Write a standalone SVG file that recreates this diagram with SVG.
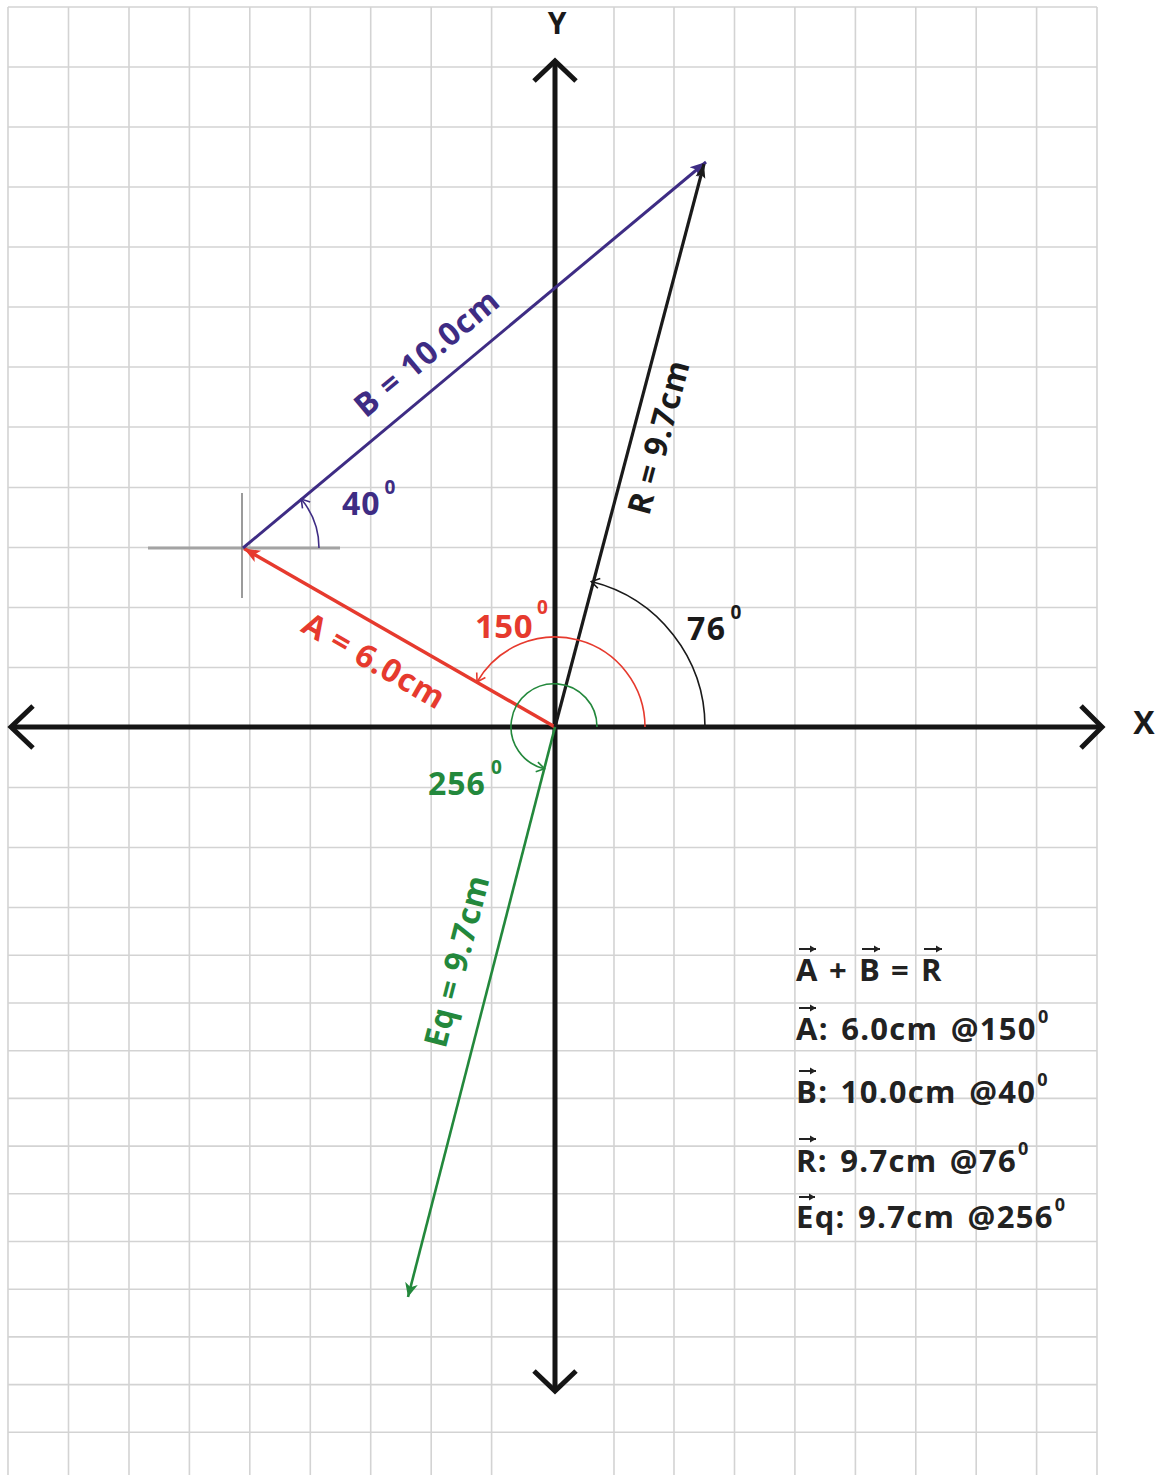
<svg xmlns="http://www.w3.org/2000/svg" width="1158" height="1475" viewBox="0 0 1158 1475">
<style>
.grid line{stroke:#d3d3d3;stroke-width:1.6}
.ax{fill:none;stroke:#151515;stroke-width:5}
.lbl{font-family:"Open Sans","Liberation Sans",sans-serif;font-weight:700}
.rot{font-size:32px;letter-spacing:1px}
.red{fill:#e63a2e}
.pur{fill:#3e2c84}
.grn{fill:#23883c}
.blk{fill:#1a1a1a}
.arc{fill:none;stroke-width:1.6}
.leg{font-family:"Open Sans","Liberation Sans",sans-serif;font-weight:700;font-size:31px;letter-spacing:1.3px;word-spacing:3px;fill:#222}
.vec{stroke:#222;stroke-width:2;fill:none}
</style>
<defs>
<marker id="hRed" markerUnits="userSpaceOnUse" markerWidth="20" markerHeight="16" refX="16" refY="8" orient="auto"><path d="M0,1.5 L16,8 L0,14.5 L4,8 Z" fill="#e63a2e"/></marker>
<marker id="hPur" markerUnits="userSpaceOnUse" markerWidth="20" markerHeight="16" refX="16" refY="8" orient="auto"><path d="M0,1.5 L16,8 L0,14.5 L4,8 Z" fill="#3e2c84"/></marker>
<marker id="hBlk" markerUnits="userSpaceOnUse" markerWidth="20" markerHeight="16" refX="16" refY="8" orient="auto"><path d="M2,3 L16,8 L2,13 L5,8 Z" fill="#1a1a1a"/></marker>
<marker id="hGrn" markerUnits="userSpaceOnUse" markerWidth="20" markerHeight="16" refX="14" refY="8" orient="auto"><path d="M0,1.5 L14,8 L0,14.5 L4,8 Z" fill="#23883c"/></marker>
<marker id="cRed" markerUnits="userSpaceOnUse" markerWidth="14" markerHeight="14" refX="9" refY="6" orient="auto"><path d="M1,1 L9,6 L1,11" fill="none" stroke="#e63a2e" stroke-width="1.6"/></marker>
<marker id="cBlk" markerUnits="userSpaceOnUse" markerWidth="14" markerHeight="14" refX="9" refY="6" orient="auto"><path d="M1,1 L9,6 L1,11" fill="none" stroke="#1a1a1a" stroke-width="1.6"/></marker>
<marker id="cGrn" markerUnits="userSpaceOnUse" markerWidth="14" markerHeight="14" refX="9" refY="6" orient="auto"><path d="M1,1 L9,6 L1,11" fill="none" stroke="#23883c" stroke-width="1.6"/></marker>
<marker id="cPur" markerUnits="userSpaceOnUse" markerWidth="14" markerHeight="14" refX="9" refY="6" orient="auto"><path d="M1,1 L9,6 L1,11" fill="none" stroke="#3e2c84" stroke-width="1.6"/></marker>
<marker id="vh" markerUnits="userSpaceOnUse" markerWidth="8" markerHeight="8" refX="6" refY="4" orient="auto"><path d="M0,0.5 L6,4 L0,7.5 Z" fill="#222"/></marker>
</defs>
<rect width="1158" height="1475" fill="#fff"/>
<g id="grid" class="grid">
<line x1="8" y1="7" x2="8" y2="1475"/><line x1="68.5" y1="7" x2="68.5" y2="1475"/><line x1="129" y1="7" x2="129" y2="1475"/><line x1="189.4" y1="7" x2="189.4" y2="1475"/><line x1="249.8" y1="7" x2="249.8" y2="1475"/><line x1="310.3" y1="7" x2="310.3" y2="1475"/><line x1="370.7" y1="7" x2="370.7" y2="1475"/><line x1="431.2" y1="7" x2="431.2" y2="1475"/><line x1="491.6" y1="7" x2="491.6" y2="1475"/><line x1="614" y1="7" x2="614" y2="1475"/><line x1="674" y1="7" x2="674" y2="1475"/><line x1="734.5" y1="7" x2="734.5" y2="1475"/><line x1="794.9" y1="7" x2="794.9" y2="1475"/><line x1="855.4" y1="7" x2="855.4" y2="1475"/><line x1="915.8" y1="7" x2="915.8" y2="1475"/><line x1="976.2" y1="7" x2="976.2" y2="1475"/><line x1="1036.6" y1="7" x2="1036.6" y2="1475"/><line x1="1097" y1="7" x2="1097" y2="1475"/>
<line x1="8" y1="7" x2="1097" y2="7"/><line x1="8" y1="67" x2="1097" y2="67"/><line x1="8" y1="127" x2="1097" y2="127"/><line x1="8" y1="187" x2="1097" y2="187"/><line x1="8" y1="247" x2="1097" y2="247"/><line x1="8" y1="307" x2="1097" y2="307"/><line x1="8" y1="367" x2="1097" y2="367"/><line x1="8" y1="427" x2="1097" y2="427"/><line x1="8" y1="487.5" x2="1097" y2="487.5"/><line x1="8" y1="547.5" x2="1097" y2="547.5"/><line x1="8" y1="607.5" x2="1097" y2="607.5"/><line x1="8" y1="667.5" x2="1097" y2="667.5"/><line x1="8" y1="787.5" x2="1097" y2="787.5"/><line x1="8" y1="847.5" x2="1097" y2="847.5"/><line x1="8" y1="907.5" x2="1097" y2="907.5"/>
<line x1="8" y1="955.3" x2="1097" y2="955.3"/><line x1="8" y1="1003" x2="1097" y2="1003"/><line x1="8" y1="1050.7" x2="1097" y2="1050.7"/><line x1="8" y1="1098.4" x2="1097" y2="1098.4"/><line x1="8" y1="1146.1" x2="1097" y2="1146.1"/><line x1="8" y1="1193.8" x2="1097" y2="1193.8"/><line x1="8" y1="1241.5" x2="1097" y2="1241.5"/><line x1="8" y1="1289.2" x2="1097" y2="1289.2"/><line x1="8" y1="1336.9" x2="1097" y2="1336.9"/><line x1="8" y1="1384.6" x2="1097" y2="1384.6"/><line x1="8" y1="1432.3" x2="1097" y2="1432.3"/>
</g>
<g id="axes">
<line class="ax" x1="11" y1="727" x2="1102" y2="727"/>
<line class="ax" x1="555" y1="61" x2="555" y2="1391"/>
<path class="ax" d="M33,706 L11,727 L33,748"/>
<path class="ax" d="M1081,706 L1102,727 L1081,748"/>
<path class="ax" d="M534,81 L555,61 L576,81"/>
<path class="ax" d="M534,1371 L555,1391 L576,1371"/>
<text class="lbl blk" x="557" y="34" font-size="30" text-anchor="middle">Y</text>
<text class="lbl blk" x="1144" y="734" font-size="32" text-anchor="middle">X</text>
</g>
<g id="reference-lines">
<line x1="148" y1="548" x2="340" y2="548" stroke="#a3a3a3" stroke-width="3"/>
<line x1="242" y1="493" x2="242" y2="598" stroke="#7a7a7a" stroke-width="1.5"/>
</g>
<g id="connectors">
<line id="vecA" x1="555" y1="727" x2="244" y2="548.5" stroke="#e63a2e" stroke-width="3.5" marker-end="url(#hRed)"/>
<line id="vecB" x1="243" y1="548" x2="706" y2="162" stroke="#3e2c84" stroke-width="3" marker-end="url(#hPur)"/>
<line id="vecR" x1="555" y1="727" x2="704" y2="164" stroke="#1a1a1a" stroke-width="3.2" marker-end="url(#hBlk)"/>
<line id="vecEq" x1="555" y1="727" x2="408" y2="1297" stroke="#23883c" stroke-width="2.6" marker-end="url(#hGrn)"/>
<path id="arc150" class="arc" stroke="#e63a2e" d="M645,727 A90,90 0 0 0 477.06,682" marker-end="url(#cRed)"/>
<path id="arc76" class="arc" stroke="#1a1a1a" d="M705,727 A150,150 0 0 0 591.3,581.5" marker-end="url(#cBlk)"/>
<path id="arc256" class="arc" stroke="#23883c" d="M597,727 A43,43 0 1 0 544.6,768.7" marker-end="url(#cGrn)"/>
<path id="arc40" class="arc" stroke="#3e2c84" d="M319,548 A76,76 0 0 0 301.2,499.1" marker-end="url(#cPur)"/>
</g>
<g id="labels">
<text class="lbl rot pur" text-anchor="middle" transform="translate(427,353) rotate(-40)" y="11">B = 10.0cm</text>
<text class="lbl rot blk" text-anchor="middle" transform="translate(659,437) rotate(-75)" y="11">R = 9.7cm</text>
<text class="lbl rot red" text-anchor="middle" transform="translate(374,661) rotate(30)" y="11">A = 6.0cm</text>
<text class="lbl rot grn" text-anchor="middle" transform="translate(457,961) rotate(-75.5)" y="11">Eq = 9.7cm</text>
<text class="lbl pur" font-size="32" letter-spacing="1" x="342" y="515">40<tspan font-size="19" dx="4" dy="-21">0</tspan></text>
<text class="lbl red" font-size="33" letter-spacing="0.5" x="475" y="638">150<tspan font-size="19" dx="4" dy="-24">0</tspan></text>
<text class="lbl blk" font-size="32" letter-spacing="1.5" x="687" y="640">76<tspan font-size="19" dx="4" dy="-21">0</tspan></text>
<text class="lbl grn" font-size="32" letter-spacing="1" x="428" y="795">256<tspan font-size="19" dx="5" dy="-21">0</tspan></text>
</g>
<g id="legend">
<text class="leg" y="981" letter-spacing="0"><tspan x="796">A</tspan><tspan x="829">+</tspan><tspan x="859">B</tspan><tspan x="891">=</tspan><tspan x="921">R</tspan></text>
<text class="leg" x="796" y="1040">A: 6.0cm @150<tspan font-size="18" dx="1" dy="-17">0</tspan></text>
<text class="leg" x="796" y="1103">B: 10.0cm @40<tspan font-size="18" dx="1" dy="-17">0</tspan></text>
<text class="leg" x="796" y="1172">R: 9.7cm @76<tspan font-size="18" dx="1" dy="-17">0</tspan></text>
<text class="leg" x="796" y="1228">Eq: 9.7cm @256<tspan font-size="18" dx="1" dy="-17">0</tspan></text>
<path class="vec" marker-end="url(#vh)" d="M799,949 H816"/>
<path class="vec" marker-end="url(#vh)" d="M862,949 H880"/>
<path class="vec" marker-end="url(#vh)" d="M924,949 H942"/>
<path class="vec" marker-end="url(#vh)" d="M799,1008 H816"/>
<path class="vec" marker-end="url(#vh)" d="M799,1071 H816"/>
<path class="vec" marker-end="url(#vh)" d="M799,1139 H816"/>
<path class="vec" marker-end="url(#vh)" d="M799,1197 H815"/>
</g>
</svg>
